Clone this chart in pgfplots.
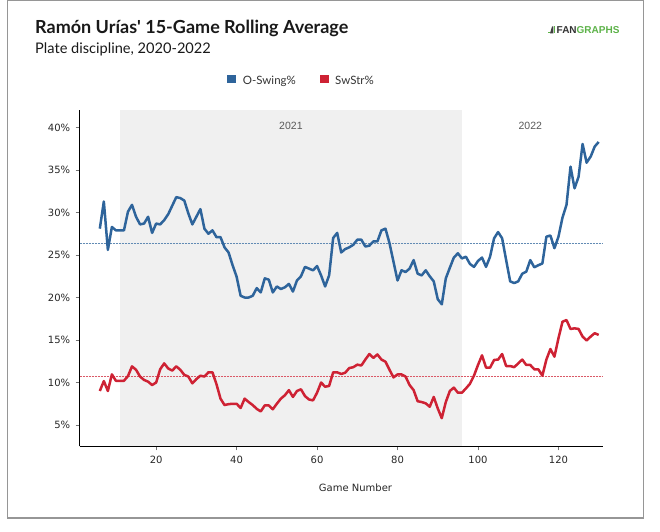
\documentclass[border=0pt]{standalone}
\usepackage{pgfplots}
\pgfplotsset{compat=1.18}
\usepackage{fontspec}
\setmainfont{DejaVu Sans}
\newfontfamily\lato{Lato}
\newfontfamily\libsans{Liberation Sans}
\definecolor{oblue}{RGB}{46,100,155}
\definecolor{sred}{RGB}{206,34,52}
\definecolor{fggreen}{RGB}{92,178,72}
\definecolor{shade}{RGB}{240,240,240}
\definecolor{framegray}{RGB}{150,150,150}

\pgfplotstableread{
g v
6 28.1
7 31.3
8 25.6
9 28.3
10 27.9
11 27.9
12 27.9
13 30.1
14 30.9
15 29.5
16 28.6
17 28.7
18 29.5
19 27.6
20 28.7
21 28.6
22 29.1
23 29.8
24 30.8
25 31.8
26 31.7
27 31.4
28 29.9
29 28.6
30 29.5
31 30.4
32 28.1
33 27.5
34 27.9
35 27.1
36 27.1
37 25.9
38 25.3
39 23.8
40 22.45
41 20.2
42 20.0
43 20.0
44 20.2
45 21.1
46 20.6
47 22.25
48 22.1
49 20.6
50 21.3
51 21.0
52 21.2
53 21.6
54 20.7
55 22.0
56 22.5
57 23.6
58 23.4
59 23.2
60 23.7
61 22.6
62 21.3
63 22.6
64 27.0
65 27.6
66 25.3
67 25.7
68 25.9
69 26.2
70 26.8
71 26.8
72 26.0
73 26.1
74 26.6
75 26.6
76 27.9
77 28.1
78 26.4
79 24.2
80 22.0
81 23.2
82 23.0
83 23.4
84 24.4
85 22.8
86 22.6
87 23.2
88 22.5
89 21.9
90 19.8
91 19.2
92 22.25
93 23.5
94 24.7
95 25.2
96 24.6
97 24.8
98 23.95
99 23.6
100 24.3
101 24.7
102 23.6
103 24.8
104 26.96
105 27.7
106 26.96
107 24.4
108 21.9
109 21.7
110 21.9
111 22.8
112 23.04
113 24.4
114 23.55
115 23.8
116 24.0
117 27.15
118 27.3
119 25.8
120 27.15
121 29.4
122 30.9
123 35.4
124 32.84
125 34.2
126 38.06
127 35.86
128 36.57
129 37.75
130 38.3
}\oswing

\pgfplotstableread{
g v
6 9.0
7 10.17
8 9.0
9 10.96
10 10.2
11 10.2
12 10.2
13 10.76
14 11.9
15 11.5
16 10.7
17 10.3
18 10.1
19 9.7
20 10.0
21 11.55
22 12.25
23 11.65
24 11.4
25 11.9
26 11.5
27 10.9
28 10.7
29 9.9
30 10.4
31 10.8
32 10.7
33 11.2
34 11.2
35 9.8
36 8.1
37 7.35
38 7.45
39 7.5
40 7.5
41 7.0
42 8.1
43 7.7
44 7.35
45 6.9
46 6.6
47 7.3
48 7.3
49 6.85
50 7.5
51 8.1
52 8.5
53 9.1
54 8.3
55 9.0
56 9.2
57 8.4
58 8.0
59 7.9
60 8.8
61 10.0
62 9.5
63 9.6
64 11.2
65 11.2
66 11.0
67 11.15
68 11.7
69 11.8
70 12.1
71 12.0
72 12.7
73 13.35
74 12.9
75 13.3
76 12.7
77 12.45
78 11.5
79 10.6
80 10.95
81 10.95
82 10.7
83 9.7
84 9.1
85 7.8
86 7.7
87 7.55
88 7.15
89 8.3
90 6.95
91 5.8
92 7.7
93 9.0
94 9.4
95 8.8
96 8.8
97 9.3
98 9.85
99 10.8
100 12.06
101 13.2
102 11.75
103 11.75
104 12.65
105 12.7
106 13.35
107 11.94
108 11.94
109 11.8
110 12.25
111 12.7
112 12.06
113 12.06
114 11.55
115 11.55
116 10.8
117 12.7
118 13.94
119 13.04
120 15.2
121 17.15
122 17.35
123 16.3
124 16.37
125 16.3
126 15.4
127 14.94
128 15.4
129 15.8
130 15.6
}\swstr

\begin{document}
\begin{tikzpicture}[x=1pt,y=1pt]
\path[use as bounding box] (0,0) rectangle (660,531);
\draw[color=framegray, line width=1.3pt] (7.3,530.3) rectangle (643.3,13);
% titles
\node[anchor=base west, inner sep=0pt, font=\lato\bfseries\fontsize{18}{20}\selectfont, text=black!90] at (35,497.7) {Ramón Urías' 15-Game Rolling Average};
\node[anchor=base west, inner sep=0pt, font=\lato\fontsize{14.6}{17}\selectfont, text=black!90] at (35,477.7) {Plate discipline, 2020-2022};
% legend
\fill[oblue] (226.7,447.7) rectangle (236,455.6);
\node[anchor=base west, inner sep=0pt, font=\lato\fontsize{11.5}{13}\selectfont, text=black!80] at (242.7,446) {O-Swing\%};
\fill[sred] (320,447.7) rectangle (329.3,455.6);
\node[anchor=base west, inner sep=0pt, font=\lato\fontsize{11.5}{13}\selectfont, text=black!80] at (335,446) {SwStr\%};
% logo
\fill[fggreen] (548,497.7) rectangle (549.5,499.2);
\fill[black!75] (550,497.7) -- (552,504.5) -- (553.3,504.5) -- (553.3,497.7) -- cycle;
\fill[fggreen] (554.3,497.7) rectangle (555.3,505);
\node[anchor=base west, inner sep=0pt, font=\libsans\bfseries\fontsize{10}{12}\selectfont] at (556.5,497.7) {\textcolor{black!80}{FAN}\textcolor{fggreen}{GRAPHS}};
% x label
\node[font=\fontsize{10}{12}\selectfont, text=black!85] at (355.5,43) {Game Number};

\begin{axis}[
  at={(79.7pt,84.75pt)}, anchor=south west,
  scale only axis, width=523pt, height=335.75pt,
  xmin=1, xmax=131, ymin=2.5, ymax=42,
  axis x line*=bottom, axis y line*=left,
  axis line style={line width=1.2pt, black, -},
  axis on top,
  xtick={20,40,...,120}, ytick={5,10,...,40},
  yticklabel={\pgfmathprintnumber{\tick}\%},
  tick align=outside, major tick length=4pt,
  tick style={black!55, line width=0.8pt},
  ticklabel style={font=\fontsize{10}{12}\selectfont, text=black!85},
  /pgf/number format/assume math mode=true,
  yticklabel style={xshift=-2pt},
  xticklabel style={yshift=-2pt},
  clip=false,
]
\addplot[fill=shade, draw=none] coordinates {(10.9,2.5) (96,2.5) (96,42) (10.9,42)} -- cycle;
\node[font=\libsans\fontsize{10.5}{12}\selectfont, text=black!65] at (axis cs:53.5,40.2) {2021};
\node[font=\libsans\fontsize{10.5}{12}\selectfont, text=black!65] at (axis cs:113,40.2) {2022};
\addplot[oblue!75!white, line width=1pt, dash pattern=on 2pt off 1pt] coordinates {(1,26.37) (131,26.37)};
\addplot[sred!75!white, line width=1pt, dash pattern=on 2pt off 1pt] coordinates {(1,10.76) (131,10.76)};
\addplot[oblue, line width=2.5pt, line join=round] table[x=g,y=v] {\oswing};
\addplot[sred, line width=2.5pt, line join=round] table[x=g,y=v] {\swstr};
\end{axis}
\end{tikzpicture}
\end{document}
